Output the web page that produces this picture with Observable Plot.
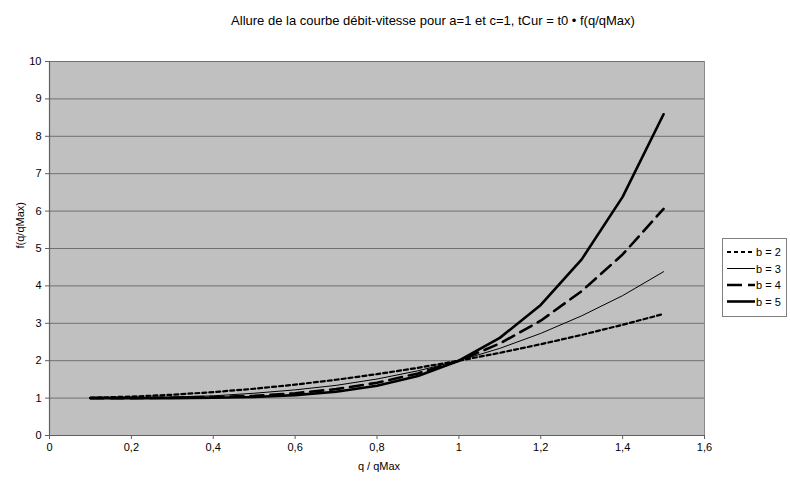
<!DOCTYPE html>
<html>
<head>
<meta charset="utf-8">
<script src="https://cdn.jsdelivr.net/npm/d3@7"></script>
<script src="https://cdn.jsdelivr.net/npm/@observablehq/plot@0.6"></script>
<style>
  html, body { margin: 0; padding: 0; background: #fff; }
  #wrap { position: relative; width: 790px; height: 489px; font-family: "Liberation Sans", Arial, sans-serif; }
  #legend { position: absolute; left: 722px; top: 238px; width: 65px; height: 79px; border: 1px solid #808080; background: #fff; box-sizing: border-box; }
</style>
</head>
<body>
<div id="wrap"></div>
<script>
const qValues = [0.1, 0.2, 0.3, 0.4, 0.5, 0.6, 0.7, 0.8, 0.9, 1.0, 1.1, 1.2, 1.3, 1.4, 1.5];
const seriesNames = ["b = 2", "b = 3", "b = 4", "b = 5"];
const b2 = [1.01, 1.04, 1.09, 1.16, 1.25, 1.36, 1.49, 1.64, 1.81, 2.00, 2.21, 2.44, 2.69, 2.96, 3.25];
const b3 = [1.00, 1.01, 1.03, 1.06, 1.13, 1.22, 1.34, 1.51, 1.73, 2.00, 2.33, 2.73, 3.20, 3.74, 4.38];
const b4 = [1.00, 1.00, 1.01, 1.03, 1.06, 1.13, 1.24, 1.41, 1.66, 2.00, 2.46, 3.07, 3.86, 4.84, 6.06];
const b5 = [1.00, 1.00, 1.00, 1.01, 1.03, 1.08, 1.17, 1.33, 1.59, 2.00, 2.61, 3.49, 4.71, 6.38, 8.59];
const xTicks = [0, 0.2, 0.4, 0.6, 0.8, 1.0, 1.2, 1.4, 1.6];
const yTicks = [0, 1, 2, 3, 4, 5, 6, 7, 8, 9, 10];
const titleText = "Allure de la courbe débit-vitesse pour a=1 et c=1, tCur = t0 • f(q/qMax)";

const allSeries = [b2, b3, b4, b5];
const styles = [
  {strokeWidth: 2.2, dash: "4,3"},
  {strokeWidth: 1, dash: null},
  {strokeWidth: 2.6, dash: "13,7"},
  {strokeWidth: 2.6, dash: null}
];

const fmt = d => String(d).replace(".", ",");

const lineMarks = allSeries.map((vals, i) => {
  const data = qValues.map((q, j) => ({q, v: vals[j]}));
  return Plot.line(data, {
    x: "q", y: "v", stroke: "#000",
    strokeWidth: styles[i].strokeWidth,
    strokeDasharray: styles[i].dash ?? undefined,
    strokeLinejoin: "round"
  });
});

const chart = Plot.plot({
  width: 790,
  height: 489,
  marginLeft: 49,
  marginRight: 86,
  marginTop: 61,
  marginBottom: 54,
  style: {fontFamily: "Liberation Sans, Arial, sans-serif", fontSize: "11px", background: "#fff", color: "#000"},
  x: {domain: [0, 1.6], ticks: xTicks, tickFormat: fmt},
  y: {domain: [0, 10], ticks: yTicks},
  marks: [
    Plot.frame({fill: "#C0C0C0", stroke: "#8a8a8a"}),
    Plot.gridY(yTicks, {stroke: "#707070", strokeOpacity: 1, strokeWidth: 1}),
    Plot.ruleX([0], {stroke: "#606060", strokeWidth: 1.2}),
    Plot.ruleY([0], {stroke: "#606060", strokeWidth: 1.2}),
    ...lineMarks,
    Plot.axisX(xTicks, {tickSize: 4, tickPadding: 4, tickFormat: fmt, stroke: "#606060", fontSize: 11, label: null}),
    Plot.axisY(yTicks, {tickSize: 4, tickPadding: 4, stroke: "#606060", fontSize: 11, label: null}),
    Plot.text([titleText], {frameAnchor: "top", dx: 56, dy: -46, fontSize: 13, fill: "#000"}),
    Plot.text(["q / qMax"], {frameAnchor: "bottom", dx: 2, dy: 34, fontSize: 11, fill: "#000"}),
    Plot.text(["f(q/qMax)"], {frameAnchor: "left", dx: -29, rotate: -90, fontSize: 11, fill: "#000"})
  ]
});

const wrap = document.getElementById("wrap");
wrap.appendChild(chart);

// Legend
const legend = document.createElement("div");
legend.id = "legend";
const ns = "http://www.w3.org/2000/svg";
const svg = document.createElementNS(ns, "svg");
svg.setAttribute("width", "63");
svg.setAttribute("height", "77");
seriesNames.forEach((name, i) => {
  const y = 13 + i * 16.5;
  const line = document.createElementNS(ns, "line");
  line.setAttribute("x1", "4"); line.setAttribute("x2", "32");
  line.setAttribute("y1", y); line.setAttribute("y2", y);
  line.setAttribute("stroke", "#000");
  line.setAttribute("stroke-width", styles[i].strokeWidth);
  if (styles[i].dash) line.setAttribute("stroke-dasharray", i === 0 ? "4,3" : "15,6");
  svg.appendChild(line);
  const t = document.createElementNS(ns, "text");
  t.setAttribute("x", "33"); t.setAttribute("y", y + 4);
  t.setAttribute("font-size", "11");
  t.setAttribute("font-family", "Liberation Sans, Arial, sans-serif");
  t.textContent = name;
  svg.appendChild(t);
});
legend.appendChild(svg);
wrap.appendChild(legend);
</script>
</body>
</html>
